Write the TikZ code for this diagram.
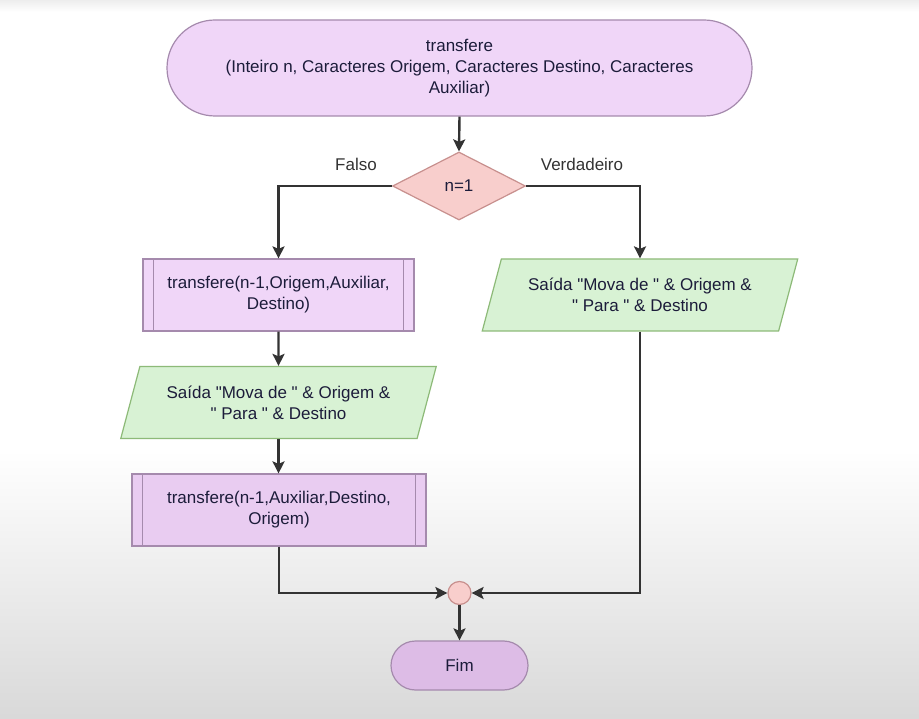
\documentclass[tikz,border=0pt]{standalone}
\usepackage{fontspec}
\setmainfont{Liberation Sans}
\newfontfamily\lib{Liberation Sans}
\usetikzlibrary{shapes.geometric,arrows.meta}
\definecolor{txt}{HTML}{1C1C3A}
\definecolor{lnk}{HTML}{333333}
\definecolor{lavfill}{HTML}{F0D6F8}
\definecolor{lavdark}{HTML}{DDBCE6}
\definecolor{lavmid}{HTML}{E9CCF1}
\definecolor{lavline}{HTML}{A58AAD}
\definecolor{redfill}{HTML}{F8CECC}
\definecolor{redline}{HTML}{C8908E}
\definecolor{grnfill}{HTML}{D8F2D4}
\definecolor{grnline}{HTML}{8DBA78}
\tikzset{
  base/.style={font=\lib\fontsize{17}{21}\selectfont, text=txt, align=center, line width=1.2pt, inner sep=0pt},
  term/.style={base, draw=lavline, fill=lavfill},
  decis/.style={base, diamond, aspect=2, draw=redline, fill=redfill, minimum width=133pt, minimum height=68pt},
  proc/.style={base, rectangle, draw=lavline, fill=lavfill, minimum height=72pt},
  io/.style={base, trapezium, trapezium left angle=65.4, trapezium right angle=114.6, trapezium stretches=true, draw=grnline, fill=grnfill, minimum width=316pt, minimum height=72pt},
  joint/.style={circle, draw=redline, fill=redfill, line width=1.2pt, minimum size=23pt, inner sep=0pt},
  lbl/.style={font=\lib\fontsize{17}{21}\selectfont, text=lnk, inner sep=0pt},
  link/.style={draw=lnk, line width=2.4pt, -{Stealth[length=12pt,width=12pt,inset=2.5pt]}},
  inner line/.style={draw=lavline, line width=1.2pt}
}
\begin{document}
\begin{tikzpicture}[x=1pt,y=-1pt]
  \useasboundingbox (0,0) rectangle (919,719);
  \fill[white] (0,0) rectangle (919,719);
  \shade[top color=white, bottom color=black!15] (0,450) rectangle (919,719);
  \shade[top color=black!7, bottom color=white] (0,0) rectangle (919,12);

  \node[term, rounded corners=48pt, minimum width=585pt, minimum height=96pt] (top) at (459.5,68)
    {transfere\\(Inteiro n, Caracteres Origem, Caracteres Destino, Caracteres\\Auxiliar)};
  \node[decis] (dia) at (459,186) {n=1};
  \node[lbl] (falso) at (356,164) {Falso};
  \node[lbl] (verd) at (582,164) {Verdadeiro};

  \node[proc, minimum width=271pt] (box1) at (278.5,295) {transfere(n-1,Origem,Auxiliar,\\Destino)};
  \draw[inner line] ([xshift=11pt]box1.north west) -- ([xshift=11pt]box1.south west);
  \draw[inner line] ([xshift=-11pt]box1.north east) -- ([xshift=-11pt]box1.south east);

  \node[io] (par1) at (278.5,402.5) {Saída "Mova de " \& Origem \&\\" Para " \& Destino};

  \node[proc, fill=lavmid, minimum width=294pt] (box2) at (279,510) {transfere(n-1,Auxiliar,Destino,\\Origem)};
  \draw[inner line] ([xshift=11pt]box2.north west) -- ([xshift=11pt]box2.south west);
  \draw[inner line] ([xshift=-11pt]box2.north east) -- ([xshift=-11pt]box2.south east);

  \node[io] (par2) at (640,295) {Saída "Mova de " \& Origem \&\\" Para " \& Destino};

  \node[joint] (circ) at (459.5,593) {};
  \node[term, fill=lavdark, rounded corners=24.5pt, minimum width=137pt, minimum height=49pt] (fim) at (459.5,665.5) {Fim};

  \draw[link] (top.south) -- (dia.north);
  \draw[link] (dia.west) -| (box1.north);
  \draw[link] (dia.east) -| (par2.north);
  \draw[link] (box1.south) -- (par1.north);
  \draw[link] (par1.south) -- (par1.south |- box2.north);
  \draw[link] (box2.south) |- (circ.west);
  \draw[link] (par2.south) |- (circ.east);
  \draw[link] (circ.south) -- (fim.north);
\end{tikzpicture}
\end{document}
